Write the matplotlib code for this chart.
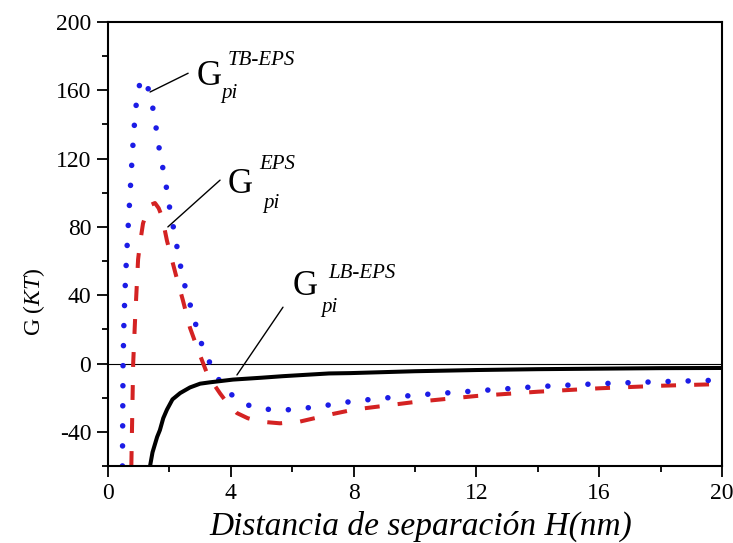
import matplotlib
matplotlib.use("Agg")
import matplotlib.pyplot as plt
from matplotlib.ticker import MultipleLocator

plt.rcParams['font.family'] = ['Liberation Serif', 'DejaVu Serif']
plt.rcParams['axes.unicode_minus'] = False
plt.rcParams['mathtext.fontset'] = 'custom'
plt.rcParams['mathtext.it'] = 'Liberation Serif:italic'
plt.rcParams['mathtext.rm'] = 'Liberation Serif'

# ---- data ----
h_tb = [0.47, 0.48, 0.49, 0.52, 0.57, 0.64, 0.72, 0.80, 0.88, 0.95, 1.05, 1.15, 1.27, 1.40,
        1.55, 1.70, 1.85, 2.00, 2.18, 2.31, 2.44, 2.60, 2.80, 2.96, 3.22, 3.55, 3.80, 4.07,
        4.40, 4.72, 5.37, 6.00, 6.70, 7.30, 8.0, 10.0, 12.0, 14.0, 16.0, 18.0, 20.0]
g_tb = [-60, -30, 0, 25, 50, 75, 100, 125, 145, 157, 165, 167, 163, 156,
        140, 122, 109, 92, 75, 62, 50, 39, 27, 15.5, 4, -8, -14, -19,
        -23, -25.5, -27.2, -27, -25.5, -24, -22, -18.5, -16, -13.5, -11.8, -10.6, -9.7]

h_eps = [0.76, 0.79, 0.82, 0.88, 0.98, 1.04, 1.14, 1.27, 1.40, 1.53, 1.65, 1.76, 1.92, 2.02,
         2.21, 2.44, 2.67, 2.93, 3.22, 3.42, 3.65, 3.88, 4.20, 4.55, 4.95, 5.60, 6.25, 7.33,
         8.0, 10.0, 12.0, 14.0, 16.0, 18.0, 20.0]
g_eps = [-60, -30, 0, 25, 61, 70, 82, 89, 93, 94, 91, 86, 72, 65,
         52, 37, 21, 8, -5.5, -11.4, -17.5, -23, -29, -32, -34, -35, -34, -29.5,
         -27, -22.5, -19, -16.5, -14.5, -13, -12]

h_lb = [1.37, 1.45, 1.60, 1.69, 1.80, 1.92, 2.10, 2.35, 2.67, 3.00, 3.32, 4.07, 5.0, 5.7,
        7.2, 7.9, 10.0, 12.0, 14.0, 16.0, 18.0, 20.0]
g_lb = [-60, -52, -43, -39, -32, -27, -21, -17.3, -14, -11.8, -11.0, -9.4, -8.3, -7.4,
        -5.8, -5.6, -4.5, -3.8, -3.3, -3.0, -2.7, -2.6]

x_ticks = [0, 4, 8, 12, 16, 20]
y_ticks = [-40, 0, 40, 80, 120, 160, 200]

fig = plt.figure(figsize=(7.33, 5.43), dpi=100)
ax = fig.add_axes([108/733, 1-466/543, (722-108)/733, (466-22)/543])

ax.axhline(0, color='black', lw=0.8, zorder=1)
ax.plot(h_lb, g_lb, color='black', lw=2.9, zorder=3, solid_capstyle='butt')
ax.plot(h_eps, g_eps, color='#d42222', lw=2.9, dashes=(3.7, 4.5), zorder=2)
ax.plot(h_tb, g_tb, color='#1c1ce6', lw=4.0, dashes=(0.01, 3.6), dash_capstyle='round', zorder=2)

ax.set_xlim(0, 20)
ax.set_ylim(-60, 200)
ax.set_xticks(x_ticks)
ax.set_yticks(y_ticks)
ax.xaxis.set_minor_locator(MultipleLocator(2))
ax.set_yticks([-60, -20, 20, 60, 100, 140, 180], minor=True)
ax.tick_params(which='major', direction='out', length=8, width=1.3, labelsize=17,
               top=False, right=False)
ax.tick_params(which='minor', direction='out', length=4, width=1.3, top=False, right=False)
ax.tick_params(axis='x', pad=4)
ax.tick_params(axis='y', pad=4)
for s in ax.spines.values():
    s.set_linewidth(1.5)

ax.set_xlabel('Distancia de separación H(nm)', fontsize=24, style='italic')
ax.xaxis.set_label_coords(0.51, -0.10)
ax.set_ylabel(r'G ($KT$)', fontsize=17)
ax.yaxis.set_label_coords(-0.10, 0.37)

# annotation labels: (anchor H, G), sup offset px, sub offset px, sup text
def pt(px):
    return px * 0.72

labels = [
    (2.9, 163, 'TB-EPS', (31, 20), (24, -13)),
    (3.9, 100, 'EPS', (32, 24), (35, -15)),
    (6.03, 40, 'LB-EPS', (35, 17), (28, -17)),
]
for hx, gy, sup, so, sb in labels:
    ax.annotate('G', (hx, gy), fontsize=25, va='baseline', ha='left')
    ax.annotate(sup, (hx, gy), xytext=(pt(so[0]), pt(so[1])), textcoords='offset points',
                fontsize=15, style='italic', va='baseline', ha='left')
    ax.annotate('pi', (hx, gy), xytext=(pt(sb[0]), pt(sb[1])), textcoords='offset points',
                fontsize=15, style='italic', va='baseline', ha='left')

leaders = [((2.61, 170), (1.37, 159)), ((3.65, 107.4), (1.95, 80)), ((5.7, 33), (4.2, -6.7))]
for (x0, y0), (x1, y1) in leaders:
    ax.annotate('', xy=(x1, y1), xytext=(x0, y0),
                arrowprops=dict(arrowstyle='-', color='black', lw=1.0, shrinkA=0, shrinkB=0))

fig.savefig('out.png', dpi=100)
